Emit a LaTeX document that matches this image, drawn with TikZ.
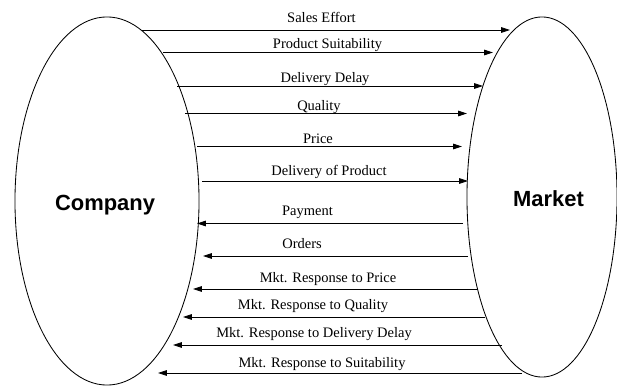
\documentclass[tikz,border=0pt]{standalone}
\usepackage{fontspec}
\setmainfont{Liberation Serif}
\newfontfamily\headfont{Liberation Sans}
\usepackage{tikz}
\usetikzlibrary{shapes.geometric, arrows.meta, positioning}
\tikzstyle{party} = [ellipse, draw, line width=0.6pt, inner sep=0pt]
\tikzstyle{flow} = [draw, line width=0.6pt, -{Triangle[length=2.2mm, width=1.4mm]}]
\tikzstyle{lbl} = [anchor=base, inner sep=0pt, font=\fontsize{10.3}{12}\selectfont]
\tikzstyle{head} = [anchor=base, inner sep=0pt, font=\headfont\bfseries\fontsize{15.6}{18}\selectfont]

\begin{document}
\begin{tikzpicture}[x=0.025cm, y=-0.025cm]
			\useasboundingbox (0,0) rectangle (617,386);
			\node [party, minimum width=4.6cm, minimum height=9.2cm] (comp) at (107, 201) {};
			\node [party, minimum width=3.75cm, minimum height=9cm] (mkt) at (542, 197) {};
			\node [head] (compname) at (105, 211) {Company};
			\node [head] (mktname) at (548.5, 207) {Market};

			% company to market
			\coordinate (c1) at (142, 30);
			\coordinate (m1) at (510, 30);
			\coordinate (c2) at (163, 52.5);
			\coordinate (m2) at (493, 52.5);
			\coordinate (c3) at (177, 86);
			\coordinate (m3) at (483, 86);
			\coordinate (c4) at (185, 113.5);
			\coordinate (m4) at (467, 113.5);
			\coordinate (c5) at (197, 146.5);
			\coordinate (m5) at (462, 146.5);
			\coordinate (c6) at (202, 181);
			\coordinate (m6) at (468, 181);

			% market to company
			\coordinate (m7) at (463, 223.5);
			\coordinate (c7) at (197, 223.5);
			\coordinate (m8) at (468, 256);
			\coordinate (c8) at (203, 256);
			\coordinate (m9) at (478, 289);
			\coordinate (c9) at (193, 289);
			\coordinate (m10) at (485, 317);
			\coordinate (c10) at (183, 317);
			\coordinate (m11) at (502, 345);
			\coordinate (c11) at (173, 345);
			\coordinate (m12) at (522, 373);
			\coordinate (c12) at (158, 373);

			\path [flow] (c1) -- (m1);
			\path [flow] (c2) -- (m2);
			\path [flow] (c3) -- (m3);
			\path [flow] (c4) -- (m4);
			\path [flow] (c5) -- (m5);
			\path [flow] (c6) -- (m6);
			\path [flow] (m7) -- (c7);
			\path [flow] (m8) -- (c8);
			\path [flow] (m9) -- (c9);
			\path [flow] (m10) -- (c10);
			\path [flow] (m11) -- (c11);
			\path [flow] (m12) -- (c12);

			\node [lbl] (l1) at (321.5, 23) {Sales Effort};
			\node [lbl] (l2) at (327.5, 49) {Product Suitability};
			\node [lbl] (l3) at (325, 82.5) {Delivery Delay};
			\node [lbl] (l4) at (319, 110.5) {Quality};
			\node [lbl] (l5) at (318, 144) {Price};
			\node [lbl] (l6) at (329, 175.5) {Delivery of Product};
			\node [lbl] (l7) at (307.5, 216) {Payment};
			\node [lbl] (l8) at (302, 248.3) {Orders};
			\node [lbl] (l9) at (328, 282) {Mkt. Response to Price};
			\node [lbl] (l10) at (313, 309.5) {Mkt. Response to Quality};
			\node [lbl] (l11) at (314, 337) {Mkt. Response to Delivery Delay};
			\node [lbl] (l12) at (322, 367.3) {Mkt. Response to Suitability};
		\end{tikzpicture}
\end{document}
